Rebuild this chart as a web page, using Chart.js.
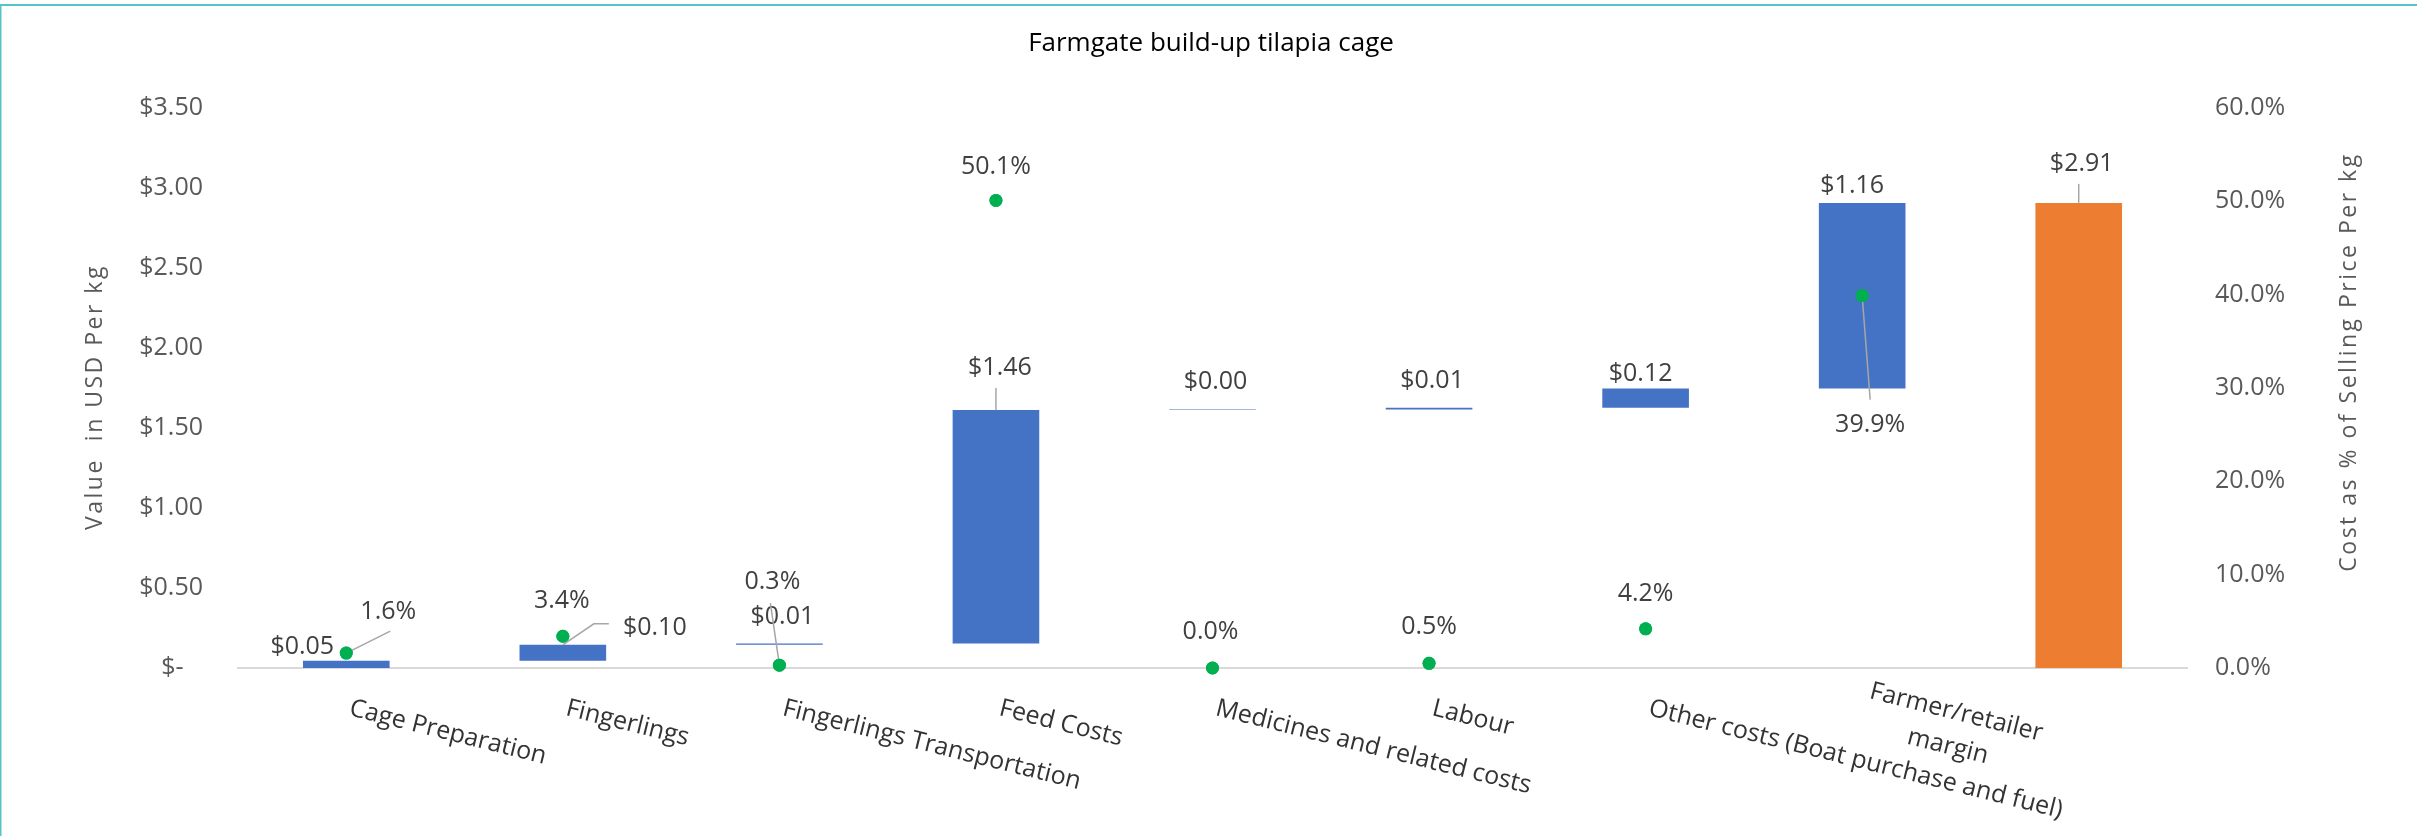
<!DOCTYPE html>
<html>
<head>
<meta charset="utf-8">
<title>Farmgate build-up tilapia cage</title>
<script src="https://cdn.jsdelivr.net/npm/chart.js@4"></script>
<style>
  html, body { margin: 0; padding: 0; background: #fff; }
  #wrap { position: relative; width: 2417px; height: 836px; }
</style>
</head>
<body>
<div id="wrap"><canvas id="farmgate-chart" width="2417" height="836"></canvas></div>
<script>
// categories along the x axis (last column is the total, no label)
const categories = [
  'Cage Preparation',
  'Fingerlings',
  'Fingerlings Transportation',
  'Feed Costs',
  'Medicines and related costs',
  'Labour',
  'Other costs (Boat purchase and fuel)',
  ['Farmer/retailer', 'margin'],
  ''
];

// waterfall: where each floating bar starts and ends (USD per kg)
const barStart = [0, 0.046, 0.145, 0.153, 1.613, 1.616, 1.627, 1.747, 0];
const barEnd = [0.046, 0.145, 0.153, 1.613, 1.616, 1.627, 1.747, 2.907, 2.907];

// cost as % of selling price
const pctOfPrice = [1.6, 3.4, 0.3, 50.1, 0.0, 0.5, 4.2, 39.9, null];

// axis tick ranges
const usdTicks = [0, 0.5, 1, 1.5, 2, 2.5, 3, 3.5];
const pctTicks = [0, 10, 20, 30, 40, 50, 60];

// manual label placement (pixel offsets from the bar top / point), like the excel original
const valueLabelOffset = [[-44, -14], [92, -17], [3, -27], [4, -42], [3, -28], [3, -27], [-5, -15], [-10, -17], [3, -39]];
const valueLeader = [null, [[31, -21], [46, -21]], null, [[0, -22]], null, null, null, null, [[0, -19]]];
const pctLabelOffset = [[42, -41], [-1, -35], [-7, -83], [0, -34], [-2, -36], [0, -36], [0, -35], [8, 129], null];
const pctLeader = [[[44, -22]], null, [[-9, -62]], null, null, null, null, [[8, 104]], null];

const BLUE = '#4472C4';
const ORANGE = '#ED7D31';
const GREEN = '#00B050';
const FONT = '"Open Sans", "Liberation Sans", sans-serif';

function drawLeader(ctx, x, y, pts) {
  ctx.beginPath();
  ctx.moveTo(x, y);
  pts.forEach(p => ctx.lineTo(x + p[0], y + p[1]));
  ctx.stroke();
}

const decorPlugin = {
  id: 'decor',
  beforeDraw(chart) {
    const ctx = chart.ctx;
    ctx.save();
    ctx.fillStyle = '#fff';
    ctx.fillRect(0, 0, chart.width, chart.height);
    // frame remains (top + left) of the original screenshot
    ctx.fillStyle = '#56C3C8';
    ctx.fillRect(0, 4, chart.width, 2);
    ctx.fillRect(0, 4, 1.5, chart.height);
    ctx.restore();
  },
  afterDatasetsDraw(chart) {
    const ctx = chart.ctx;
    const bars = chart.getDatasetMeta(0).data;
    const dots = chart.getDatasetMeta(1).data;
    ctx.save();
    ctx.font = '25px ' + FONT;
    ctx.fillStyle = '#404040';
    ctx.textAlign = 'center';
    ctx.textBaseline = 'middle';
    ctx.strokeStyle = '#A6A6A6';
    ctx.lineWidth = 1.5;

    bars.forEach((bar, i) => {
      const top = Math.min(bar.y, bar.base);
      if (valueLeader[i]) drawLeader(ctx, bar.x, top, valueLeader[i]);
      const txt = '$' + (barEnd[i] - barStart[i]).toFixed(2);
      ctx.fillText(txt, bar.x + valueLabelOffset[i][0], top + valueLabelOffset[i][1]);
    });

    dots.forEach((pt, i) => {
      if (pctOfPrice[i] === null) return;
      if (pctLeader[i]) drawLeader(ctx, pt.x, pt.y, pctLeader[i]);
      const txt = pctOfPrice[i].toFixed(1) + '%';
      ctx.fillText(txt, pt.x + pctLabelOffset[i][0], pt.y + pctLabelOffset[i][1]);
    });
    ctx.restore();

    // redraw the points over the leader lines
    chart.getDatasetMeta(1).data.forEach(pt => pt.draw(ctx, chart.chartArea));
  },
  afterDraw(chart) {
    const ctx = chart.ctx;
    const area = chart.chartArea;
    ctx.save();

    // title
    ctx.fillStyle = '#000';
    ctx.font = '26px ' + FONT;
    ctx.textAlign = 'center';
    ctx.textBaseline = 'middle';
    ctx.fillText('Farmgate build-up tilapia cage', 1211, 44);

    // axis titles, letter spaced
    ctx.fillStyle = '#595959';
    ctx.font = '23px ' + FONT;
    ctx.letterSpacing = '2.5px';
    ctx.save();
    ctx.translate(95, 397);
    ctx.rotate(-Math.PI / 2);
    ctx.fillText('Value  in USD Per kg', 0, 0);
    ctx.restore();
    ctx.save();
    ctx.translate(2349, 362);
    ctx.rotate(-Math.PI / 2);
    ctx.fillText('Cost as % of Selling Price Per kg', 0, 0);
    ctx.restore();
    ctx.letterSpacing = '0px';

    // slanted category labels (clockwise, starting at the category centre)
    const xScale = chart.scales.x;
    const ang = 14 * Math.PI / 180;
    const lineH = 35;
    ctx.fillStyle = '#333333';
    ctx.font = '25px ' + FONT;
    ctx.textBaseline = 'alphabetic';
    categories.forEach((lab, i) => {
      const lines = Array.isArray(lab) ? lab : [lab];
      if (!lines[0]) return;
      const cx = xScale.getPixelForValue(i);
      const widths = lines.map(l => ctx.measureText(l).width);
      const w = Math.max(...widths);
      ctx.save();
      ctx.translate(cx + 2, area.bottom + 47);
      ctx.rotate(ang);
      ctx.translate(0, -(lines.length - 1) * lineH / 2);
      ctx.textAlign = 'left';
      lines.forEach((l, k) => {
        ctx.fillText(l, (w - widths[k]) / 2, k * lineH);
      });
      ctx.restore();
    });
    ctx.restore();
  }
};

const ctx = document.getElementById('farmgate-chart').getContext('2d');
new Chart(ctx, {
  type: 'bar',
  data: {
    labels: categories,
    datasets: [
      {
        label: 'Value in USD Per kg',
        data: barStart.map((s, i) => [s, barEnd[i]]),
        backgroundColor: c => (c.dataIndex === categories.length - 1 ? ORANGE : BLUE),
        borderWidth: 0,
        barPercentage: 0.4,
        categoryPercentage: 1,
        yAxisID: 'y',
        order: 2
      },
      {
        type: 'line',
        label: 'Cost as % of Selling Price Per kg',
        data: pctOfPrice,
        showLine: false,
        pointRadius: 6.5,
        pointBackgroundColor: GREEN,
        pointBorderWidth: 0,
        yAxisID: 'y1',
        clip: false,
        order: 1
      }
    ]
  },
  options: {
    responsive: false,
    animation: false,
    devicePixelRatio: 1,
    layout: { padding: { top: 108, left: 0, right: 0, bottom: 0 } },
    plugins: {
      legend: { display: false },
      tooltip: { enabled: false },
      title: { display: false }
    },
    scales: {
      x: {
        grid: { display: false, drawTicks: false },
        border: { display: true, color: '#D9D9D9', width: 2 },
        ticks: { display: false },
        afterFit: s => { s.height = 168; }
      },
      y: {
        position: 'left',
        min: usdTicks[0],
        max: usdTicks[usdTicks.length - 1],
        afterBuildTicks: s => { s.ticks = usdTicks.map(v => ({ value: v })); },
        grid: { display: false, drawTicks: false },
        border: { display: false },
        ticks: {
          padding: 35,
          color: '#595959',
          font: { family: FONT, size: 25 },
          callback: v => (v === 0 ? '$-   ' : '$' + Number(v).toFixed(2))
        },
        afterFit: s => { s.width = 238; }
      },
      y1: {
        position: 'right',
        min: pctTicks[0],
        max: pctTicks[pctTicks.length - 1],
        afterBuildTicks: s => { s.ticks = pctTicks.map(v => ({ value: v })); },
        grid: { display: false, drawTicks: false },
        border: { display: false },
        ticks: {
          padding: 28,
          color: '#595959',
          font: { family: FONT, size: 25 },
          callback: v => Number(v).toFixed(1) + '%'
        },
        afterFit: s => { s.width = 230; }
      }
    }
  },
  plugins: [decorPlugin]
});
</script>
</body>
</html>
